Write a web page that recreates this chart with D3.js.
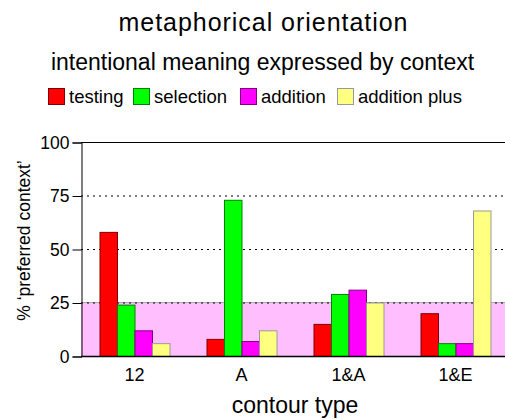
<!DOCTYPE html>
<meta charset="utf-8">
<style>
    * { margin: 0px; }
    body { background: #fff; }
    text { font-family: "Liberation Sans", Arial, sans-serif; fill: #000; }
</style>
<svg width="505" height="420"></svg>
<script src="https://d3js.org/d3.v7.min.js"></script>
<script>
    var categories = ["12", "A", "1&A", "1&E"];
    var seriesNames = ["testing", "selection", "addition", "addition plus"];
    var testing = [58, 8, 15, 20];
    var selection = [24, 73, 29, 6];
    var addition = [12, 7, 31, 6];
    var additionPlus = [6, 12, 25, 68];
    var yTicks = [0, 25, 50, 75, 100];

    var series = [testing, selection, addition, additionPlus];
    var fills = ["#ff0000", "#00ff00", "#ff00ff", "#ffff80"];
    var strokes = ["#800000", "#008000", "#800080", "#999999"];

    var svg = d3.select("svg");
    var margin = {left: 81, top: 142, right: -4, bottom: 64};
    var width = 505, height = 420;

    var x = d3.scaleBand().domain(categories)
        .range([margin.left, width - margin.right]);
    var inner = d3.scaleBand().domain(d3.range(4))
        .range([0, 70]);
    var y = d3.scaleLinear().domain([0, 100])
        .range([height - margin.bottom, margin.top]);

    // pink reference band 0..25
    svg.append("rect")
        .attr("x", margin.left).attr("y", y(25))
        .attr("width", width - margin.left).attr("height", y(0) - y(25))
        .attr("fill", "#ffbfff");
    svg.append("line")
        .attr("x1", margin.left).attr("x2", width)
        .attr("y1", y(25)).attr("y2", y(25))
        .attr("stroke", "#aaa");

    // dotted grid
    svg.append("g").selectAll("line")
        .data([25, 50, 75]).enter().append("line")
        .attr("x1", margin.left).attr("x2", width)
        .attr("y1", function(d) { return y(d) + 0.5; })
        .attr("y2", function(d) { return y(d) + 0.5; })
        .attr("stroke", "#000").attr("stroke-dasharray", "2,4");

    // top frame
    svg.append("line")
        .attr("x1", margin.left).attr("x2", width)
        .attr("y1", y(100) + 0.5).attr("y2", y(100) + 0.5)
        .attr("stroke", "#000");

    // bars
    var groups = svg.append("g").selectAll("g")
        .data(categories).enter().append("g")
        .attr("transform", function(d) {
            return "translate(" + (x(d) + (x.bandwidth() - 70) / 2) + ",0)";
        });
    groups.selectAll("rect")
        .data(function(d, i) { return series.map(function(s, k) { return {k: k, v: s[i]}; }); })
        .enter().append("rect")
        .attr("x", function(d) { return inner(d.k) + 0.5; })
        .attr("y", function(d) { return y(d.v) + 0.5; })
        .attr("width", inner.bandwidth())
        .attr("height", function(d) { return y(0) - y(d.v); })
        .attr("fill", function(d) { return fills[d.k]; })
        .attr("stroke", function(d) { return strokes[d.k]; })
        .attr("stroke-width", 1);

    // y axis
    var yAxis = svg.append("g")
        .attr("transform", "translate(" + (margin.left + 0.5) + ",0.5)")
        .call(d3.axisLeft(y).tickValues(yTicks).tickSize(9).tickPadding(3));
    yAxis.select(".domain").attr("stroke", "#000");
    yAxis.selectAll("text").style("font-size", "17.5px")
        .attr("font-family", "Liberation Sans, Arial, sans-serif");

    // x axis baseline and labels
    svg.append("line")
        .attr("x1", margin.left).attr("x2", width)
        .attr("y1", y(0) + 0.5).attr("y2", y(0) + 0.5)
        .attr("stroke", "#000").attr("stroke-width", 1.5);
    svg.append("g").selectAll("text")
        .data(categories).enter().append("text")
        .attr("x", function(d) { return x(d) + x.bandwidth() / 2; })
        .attr("y", 381)
        .attr("text-anchor", "middle")
        .style("font-size", "18px")
        .text(function(d) { return d; });

    // titles
    svg.append("text").attr("x", 263).attr("y", 31)
        .attr("text-anchor", "middle").style("font-size", "25px")
        .attr("textLength", 289)
        .text("metaphorical orientation");
    svg.append("text").attr("x", 262.5).attr("y", 70)
        .attr("text-anchor", "middle").style("font-size", "23px")
        .text("intentional meaning expressed by context");

    // axis titles
    svg.append("text").attr("x", 295).attr("y", 413)
        .attr("text-anchor", "middle").style("font-size", "23px")
        .text("contour type");
    svg.append("text")
        .attr("transform", "translate(30,240.5) rotate(-90)")
        .attr("text-anchor", "middle").style("font-size", "17.5px")
        .text("% \u2018preferred context\u2019");

    // legend
    var legendX = [48, 133, 240, 337];
    var legend = svg.append("g").selectAll("g")
        .data(seriesNames).enter().append("g")
        .attr("transform", function(d, i) { return "translate(" + legendX[i] + ",88)"; });
    legend.append("rect")
        .attr("x", 0.5).attr("y", 0.5).attr("width", 16).attr("height", 16)
        .attr("fill", function(d, i) { return fills[i]; })
        .attr("stroke", function(d, i) { return strokes[i]; });
    legend.append("text")
        .attr("x", 21).attr("y", 15)
        .style("font-size", "18.5px")
        .text(function(d) { return d; });
</script>
